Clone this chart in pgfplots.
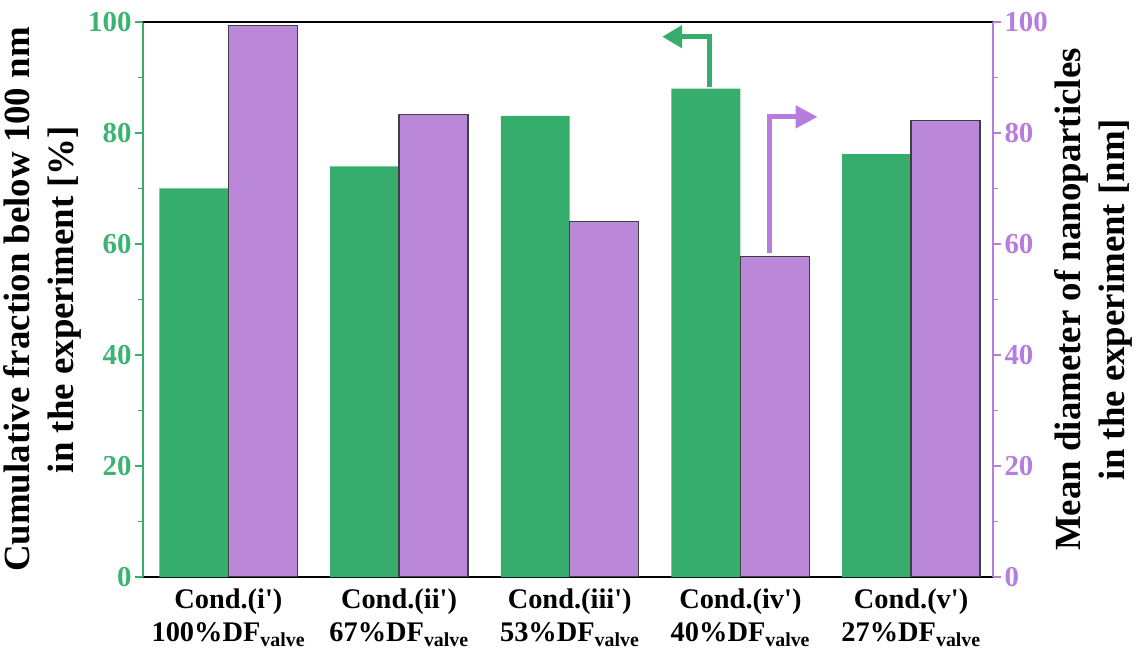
\documentclass[border=0pt]{standalone}
\usepackage{pgfplots}
\pgfplotsset{compat=1.18}
\usepackage{fontspec}
\setmainfont{Liberation Serif}[BoldFont={Liberation Serif Bold}]
\usetikzlibrary{arrows.meta}
\definecolor{cgreen}{RGB}{55,173,109}
\definecolor{cgreentxt}{RGB}{60,179,113}
\definecolor{cpurple}{RGB}{187,135,216}
\definecolor{cpurpleax}{RGB}{183,125,222}
\begin{document}
\begin{tikzpicture}
\pgfplotsset{
 common/.style={
  scale only axis, width=850bp, height=555bp,
  xmin=-0.5, xmax=4.48, ymin=0, ymax=100,
  ytick={0,20,...,100}, minor y tick num=1,
  tick align=outside, major tick length=8bp, minor tick length=5bp,
  /pgf/number format/assume math mode=true,
  axis line style={line width=1.5bp},
  ylabel style={align=center, font=\bfseries\fontsize{37}{44}\selectfont},
 }
}
\begin{axis}[common, name=ax,
 axis x line*=bottom, axis y line*=left,
 x axis line style={draw=black}, y axis line style={draw=cgreen},
 y tick style={draw=cgreen, line width=1.2bp},
 minor y tick style={draw=cgreen, line width=1.2bp},
 xtick={0,1,2,3,4}, x tick style={draw=none},
 xticklabels={
  {Cond.(i\textquotesingle)\\100\%DF\textsubscript{valve}},
  {Cond.(ii\textquotesingle)\\67\%DF\textsubscript{valve}},
  {Cond.(iii\textquotesingle)\\53\%DF\textsubscript{valve}},
  {Cond.(iv\textquotesingle)\\40\%DF\textsubscript{valve}},
  {Cond.(v\textquotesingle)\\27\%DF\textsubscript{valve}}},
 xticklabel style={align=center, font=\bfseries\fontsize{28.5}{33}\selectfont},
 yticklabel style={font=\bfseries\fontsize{29}{33}\selectfont, text=cgreentxt},
 ylabel={Cumulative fraction below 100 nm\\in the experiment [\%]},
]
\addplot[ybar, bar width=0.404, bar shift=-0.202, fill=cgreen, draw=none]
 coordinates {(0,70.0) (1,74.0) (2,83.1) (3,88.0) (4,76.2)};
\draw[cgreen, line width=5bp, -{Triangle[length=20bp,width=22bp]}]
 (axis cs:2.818,88.2) |- (axis cs:2.542,97.35);
\end{axis}
\begin{axis}[common,
 axis x line*=top, axis y line*=right,
 x axis line style={draw=black}, y axis line style={draw=cpurpleax},
 y tick style={draw=cpurpleax, line width=1.2bp},
 minor y tick style={draw=cpurpleax, line width=1.2bp},
 xtick=\empty,
 yticklabel style={font=\bfseries\fontsize{29}{33}\selectfont, text=cpurpleax},
 ylabel={Mean diameter of nanoparticles\\in the experiment [nm]},
]
\addplot[ybar, bar width=0.404, bar shift=0.202, fill=cpurple, draw=black!75, line width=1.2bp]
 coordinates {(0,99.3) (1,83.4) (2,64.0) (3,57.7) (4,82.3)};
\draw[cpurpleax, line width=5bp, -{Triangle[length=22bp,width=22bp]}]
 (axis cs:3.173,58.4) |- (axis cs:3.452,82.9);
\end{axis}
\pgfresetboundingbox
\path[use as bounding box] ([xshift=-143bp,yshift=-73bp]ax.south west) rectangle ([xshift=149bp,yshift=22bp]ax.north east);
\end{tikzpicture}
\end{document}
